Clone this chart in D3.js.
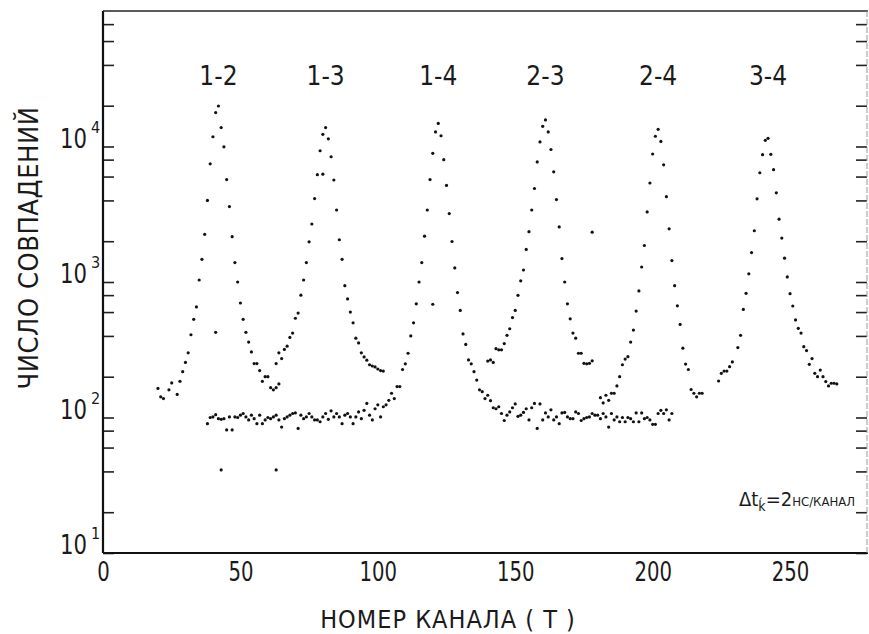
<!DOCTYPE html>
<html>
<head>
<meta charset="utf-8">
<script src="https://cdn.jsdelivr.net/npm/d3@7"></script>
<style>
    body { margin: 0; background: #fff; }
    svg text { font-family: "Liberation Sans Narrow", "DejaVu Sans Condensed", "Liberation Sans", sans-serif; fill: #1a1a1a; }
</style>
</head>
<body>
<svg id="chart" width="869" height="634"></svg>
<script>
// Peak names and the channel each one sits over
const peakNames = ['1-2', '1-3', '1-4', '2-3', '2-4', '3-4'];
const peakChannels = [42, 81, 122, 161, 202, 242];

// Axis ticks
const xTicks = [0, 50, 100, 150, 200, 250];
const yDecades = [1, 2, 3, 4];
const yMinor = [1, 2, 4, 6, 8];

// Each run of counts starts at the given channel, one value per channel (null = no point)
const run12Start = 20;
const run12 = [164, 142, 138, null, 160, 180, null, 148, 185, 218, 255, 300, 408, 530, 655, 1035, 1470, 2250, 4000, 7450,
    11800, 17800, 19900, 13800, 9950, 5700, 3600, 2160, 1390, 1000, 700, 530, 425, 360, 305, 250, 250, 222, 185, 200,
    200, 166, 160, 166, 177];

const run13Start = 63;
const run13 = [250, 300, 272, 318, 336, 390, 420, 540, 590, 800, 1035, 1390, 1980, 2680, 4130, 6200, 9300, 12300, 13800, 11400,
    8400, 5660, 3400, 2050, 1470, 940, 750, 600, 500, 385, 355, 300, 280, 265, 245, 240, 236, 228, 222, 220];

// background band with the 1-4 peak in it
const runLowStart = 38;
const runLow = [90, 100, 101, 105, 98, 97, 98, 81, 101, 81,
    101, 100, 104, 107, 101, 96, 104, 98, 90, 104,
    90, 96, 100, 98, 101, 104, 96, 85, 98,
    101, 104, 107, 108, 83, 104, 98, 101, 107, 101,
    96, 96, 93, 101, 107, 97, 112, 101, 107, 101,
    90, 104, 107, 101, 90, 101, 110, 98, 113, 127,
    104, 96, 116, 124, 101, 120, 124, 134, 151, 138, 169,
    169, 226, 249, 298, 400, 500, 690, 1000, 1390, 2180,
    3400, 5700, 8900, 12800, 14800, 12000, 8000, 5160, 3200, 1990,
    1270, 835, 617, 414, 346, 266, 249, 218, 189, 160,
    155, 138, 146, 133, 118, 116, 120, 107, 95, 104,
    110, 118, 126, 102, 104, 109, 116, 96, 118, 127,
    83, 126, 96, 108, 101, 114, 96, 101, 90, 108,
    109, 101, 98, 98, 110, 107, 95, 98, 100, 101,
    107, 104, 104, 98, 107, 101, 85, 107, 96, 101,
    93, 100, 93, 100, 98, 93, 108, 93, 108, 98,
    100, 96, 89, 89, 107, 113, 107, 114, 96, 107];

const run23Start = 140;
const run23 = [261, 266, 255, 322, 316, 316, 351, 404, 452, 546, 617, 797, 1020, 1226, 1740, 2350, 3400, 4900, 7700, 10800,
    14100, 15700, 12800, 9500, 6500, 4060, 2550, 1490, 1000, 690, 535, 420, 385, 298, 298, 251, 249, 251, 262];

const run24Start = 181;
const run24 = [140, 128, 146, 134, 151, 151, 171, 200, 245, 270, 281, 360, 442, 610, 860, 1290, 1860, 3290, 5380, 8800,
    11900, 13400, 10900, 7320, 4260, 2470, 1440, 940, 667, 486, 325, 248, 226, 161, 151, 142, 151, 151];

const run34Start = 224;
const run34 = [186, 212, 220, 220, 237, 257, null, 328, 404, 627, 825, 1150, 1650, 2390, 4110, 6400, 8700, 11100, 11500, 8750,
    6750, 4550, 2910, 2110, 1500, 1090, 820, 665, 525, 455, 420, 333, 312, 247, 272, 212, 200, 224, 200, 184,
    171, 179, 179, 177];

// loose points off the runs
const strayChannels = [41, 80, 120, 178, 43, 63];
const strayCounts = [425, 6250, 685, 2330, 41, 41];

const runs = [
    [run12Start, run12], [run13Start, run13], [runLowStart, runLow],
    [run23Start, run23], [run24Start, run24], [run34Start, run34]
];

const points = [];
runs.forEach(([start, vals]) => {
    vals.forEach((v, i) => { if (v != null) points.push({ ch: start + i, n: v }) });
});
strayChannels.forEach((c, i) => points.push({ ch: c, n: strayCounts[i] }));

// Dimensions
const plotLeft = 103, plotRight = 867, plotTop = 11, plotBottom = 553;

const svg = d3.select('#chart');

const x = d3.scaleLinear().domain([0, 278]).range([plotLeft, plotRight]);
const y = d3.scaleLog().domain([10, 1e5]).range([plotBottom, plotTop]);

const yTickValues = [];
[1, 2, 3, 4].forEach(e => yMinor.forEach(m => yTickValues.push(m * Math.pow(10, e))));

// inward ticks on both sides
const yLeft = d3.axisLeft(y).tickValues(yTickValues).tickFormat('').tickSizeInner(-11).tickSizeOuter(0);
const yRight = d3.axisRight(y).tickValues(yTickValues).tickFormat('').tickSizeInner(-11).tickSizeOuter(0);

svg.append('g').attr('transform', `translate(${plotLeft},0)`).call(yLeft)
    .call(g => g.select('.domain').remove())
    .selectAll('line').attr('stroke', '#222').attr('stroke-width', 1.6);
svg.append('g').attr('transform', `translate(${plotRight},0)`).call(yRight)
    .call(g => g.select('.domain').remove())
    .selectAll('line').attr('stroke', '#222').attr('stroke-width', 1.6);

// frame
svg.append('line').attr('x1', plotLeft).attr('x2', plotLeft).attr('y1', plotTop).attr('y2', plotBottom)
    .attr('stroke', '#111').attr('stroke-width', 2.2);
svg.append('line').attr('x1', plotLeft).attr('x2', plotRight + 1).attr('y1', plotBottom).attr('y2', plotBottom)
    .attr('stroke', '#111').attr('stroke-width', 2);
svg.append('line').attr('x1', plotLeft).attr('x2', plotRight + 1).attr('y1', plotTop).attr('y2', plotTop)
    .attr('stroke', '#222').attr('stroke-width', 1.6);
svg.append('line').attr('x1', plotRight).attr('x2', plotRight).attr('y1', plotTop).attr('y2', plotBottom)
    .attr('stroke', '#999').attr('stroke-width', 1).attr('stroke-dasharray', '6 2');

// x tick labels, squeezed to the narrow plotter lettering
const xAxis = d3.axisBottom(x).tickValues(xTicks).tickSize(0).tickPadding(10).tickFormat(d3.format('d'));
svg.append('g').attr('transform', `translate(0,${plotBottom})`).call(xAxis)
    .call(g => g.select('.domain').remove())
    .selectAll('text')
        .attr('font-size', 26)
        .attr('fill', '#1a1a1a')
        .style('font-family', '"Liberation Sans Narrow", "DejaVu Sans Condensed", sans-serif')
        .attr('textLength', d => String(d).length * 12.5)
        .attr('lengthAdjust', 'spacingAndGlyphs');

// y tick labels 10^n, base and exponent as separate texts
const yLab = svg.append('g');
yDecades.forEach(e => {
    const ty = y(Math.pow(10, e));
    yLab.append('text')
        .attr('x', 60).attr('y', ty + 1)
        .attr('font-size', 26)
        .attr('textLength', 27).attr('lengthAdjust', 'spacingAndGlyphs')
        .text('10');
    yLab.append('text')
        .attr('x', 91).attr('y', ty - 14)
        .attr('font-size', 16)
        .text(e);
});

// dots
svg.append('g').selectAll('circle')
    .data(points)
    .enter()
    .append('circle')
        .attr('cx', d => x(d.ch))
        .attr('cy', d => y(d.n))
        .attr('r', 1.6)
        .attr('fill', '#111');

// peak names
svg.append('g').selectAll('text')
    .data(peakNames)
    .enter()
    .append('text')
        .attr('x', (d, i) => x(peakChannels[i]))
        .attr('y', 85)
        .attr('text-anchor', 'middle')
        .attr('font-size', 26)
        .text(d => d);

// axis titles
svg.append('text')
    .attr('transform', 'translate(38,248) rotate(-90)')
    .attr('text-anchor', 'middle')
    .attr('font-size', 27)
    .attr('letter-spacing', 0.6)
    .text('ЧИСЛО СОВПАДЕНИЙ');

svg.append('text')
    .attr('x', 448).attr('y', 628)
    .attr('text-anchor', 'middle')
    .attr('font-size', 25)
    .attr('letter-spacing', 1)
    .text('НОМЕР  КАНАЛА ( Т )');

// annotation in the corner
const note = svg.append('text').attr('x', 855).attr('y', 506).attr('text-anchor', 'end').attr('font-size', 20);
note.append('tspan').text('Δt');
note.append('tspan').attr('font-size', 14).attr('dy', 5).text('ḱ');
note.append('tspan').attr('dy', -5).text('=2');
note.append('tspan').attr('font-size', 13).text('НС/КАНАЛ');
</script>
</body>
</html>
